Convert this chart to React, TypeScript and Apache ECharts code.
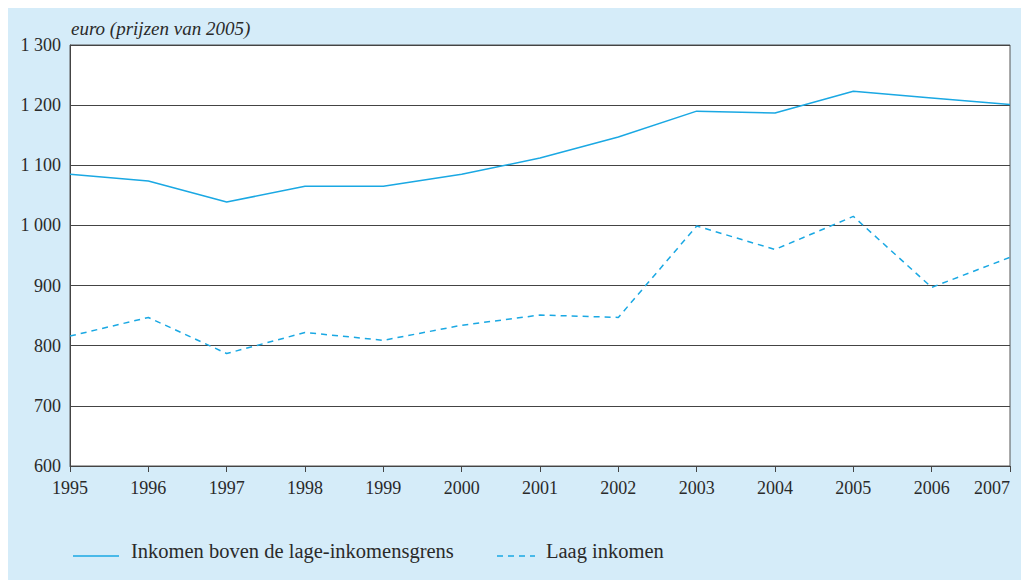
import React, { useEffect, useRef } from "react";
import * as echarts from "echarts";

const years = ["1995", "1996", "1997", "1998", "1999", "2000", "2001", "2002", "2003", "2004", "2005", "2006", "2007"];
const aboveLowIncome = [1085, 1074, 1039, 1065, 1065, 1085, 1112, 1147, 1190, 1187, 1223, 1212, 1201];
const lowIncome = [816, 847, 787, 822, 809, 834, 851, 847, 999, 960, 1015, 897, 947];
const seriesNames = ["Inkomen boven de lage-inkomensgrens", "Laag inkomen"];
const yTitle = "euro (prijzen van 2005)";

const FONT = "Liberation Serif";
const LINE = "#1aa8e3";
const TEXT = "#2a2a2a";

export default function App() {
  const ref = useRef<HTMLDivElement>(null);
  useEffect(() => {
    document.body.style.margin = "0";
    const chart = echarts.init(ref.current!, null, { renderer: "svg", width: 1021, height: 580 });
    chart.setOption({
      animation: false,
      graphic: [
        { type: "rect", shape: { x: 8, y: 8, width: 1013, height: 572 }, style: { fill: "#d5ecf9" }, z: -10 },
        { type: "text", x: 71, y: 28, style: { text: yTitle, fontFamily: FONT, fontStyle: "italic", fontSize: 19, fill: TEXT, verticalAlign: "middle" } },
        { type: "line", shape: { x1: 73, y1: 556, x2: 119, y2: 556 }, style: { stroke: LINE, lineWidth: 1.5 } },
        { type: "text", x: 131, y: 551, style: { text: seriesNames[0], fontFamily: FONT, fontSize: 20.5, fill: TEXT, verticalAlign: "middle" } },
        { type: "line", shape: { x1: 497, y1: 556, x2: 535, y2: 556 }, style: { stroke: LINE, lineWidth: 1.5, lineDash: [6, 5] } },
        { type: "text", x: 546, y: 551, style: { text: seriesNames[1], fontFamily: FONT, fontSize: 20.5, fill: TEXT, verticalAlign: "middle" } },
      ],
      grid: { left: 70, top: 45, right: 11, bottom: 114, show: true, backgroundColor: "#ffffff", borderColor: "#555", borderWidth: 1 },
      xAxis: {
        type: "category", data: years, boundaryGap: false,
        axisLine: { lineStyle: { color: "#444", width: 1 } },
        axisTick: { show: true, length: 6, lineStyle: { color: "#444" } },
        axisLabel: { fontFamily: FONT, fontSize: 18, color: TEXT, margin: 13, showMinLabel: true, showMaxLabel: true, alignMaxLabel: "right" },
        splitLine: { show: false },
      },
      yAxis: {
        type: "value", min: 600, max: 1300, interval: 100,
        axisLine: { show: true, lineStyle: { color: "#444", width: 1 } },
        axisTick: { show: false },
        axisLabel: {
          fontFamily: FONT, fontSize: 18, color: TEXT, margin: 9,
          formatter: (v: number) => (v >= 1000 ? `${Math.floor(v / 1000)} ${String(v % 1000).padStart(3, "0")}` : String(v)),
        },
        splitLine: { lineStyle: { color: "#444", width: 1 } },
      },
      series: [
        { name: seriesNames[0], type: "line", data: aboveLowIncome, symbol: "none", lineStyle: { color: LINE, width: 1.5, type: "solid" }, itemStyle: { color: LINE } },
        { name: seriesNames[1], type: "line", data: lowIncome, symbol: "none", lineStyle: { color: LINE, width: 1.5, type: [6, 5] }, itemStyle: { color: LINE } },
      ],
    });
    return () => chart.dispose();
  }, []);
  return <div ref={ref} style={{ position: "absolute", left: 0, top: 0, width: 1021, height: 580 }} />;
}
